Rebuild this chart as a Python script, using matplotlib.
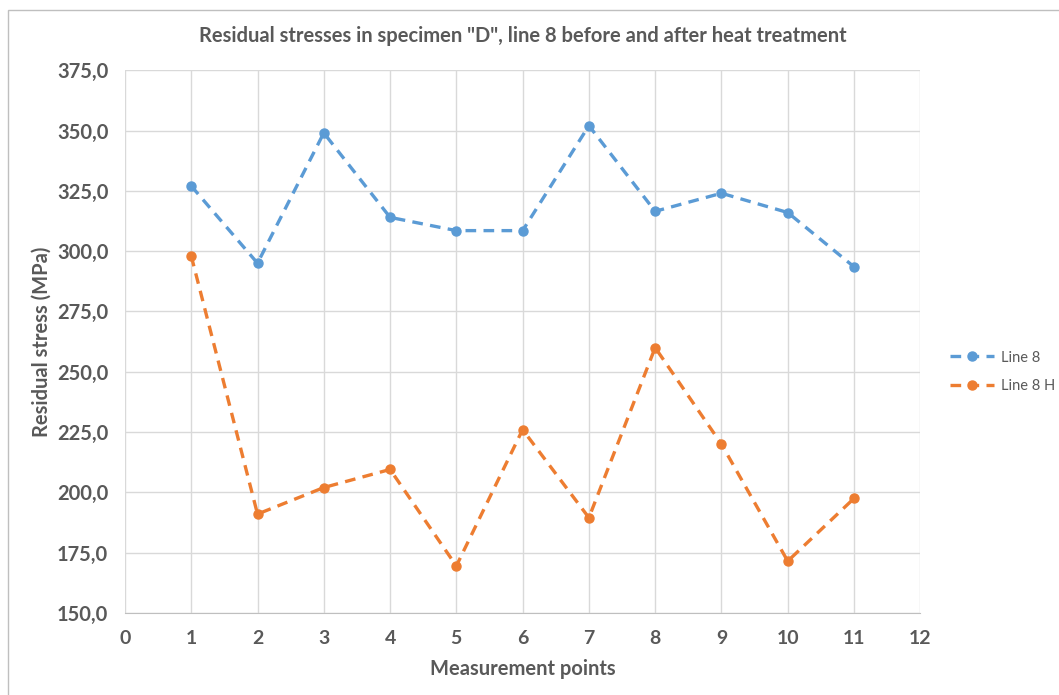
import matplotlib

matplotlib.use("Agg")
import matplotlib.pyplot as plt
from matplotlib.patches import Rectangle
from matplotlib.ticker import FuncFormatter

plt.rcParams["font.family"] = ["Lato", "DejaVu Sans"]

points = [1, 2, 3, 4, 5, 6, 7, 8, 9, 10, 11]
line_8 = [327.0, 295.0, 349.0, 314.0, 308.5, 308.5, 352.0, 316.5, 324.0, 316.0, 293.5]
line_8_h = [298.0, 191.0, 202.0, 209.5, 169.5, 226.0, 189.5, 260.0, 220.0, 171.5, 197.5]

BLUE = "#5B9BD5"
ORANGE = "#ED7D31"
TEXT = "#595959"
GRID = "#d9d9d9"

fig = plt.figure(figsize=(10.59, 6.95), dpi=100)
ax = fig.add_axes([0.118, 0.118, 0.751, 0.781])

# chart frame, clipped at the right and bottom edges
fig.patches.append(
    Rectangle((8 / 1059, -0.05), 1.2, 1 - 10 / 695 + 0.05, transform=fig.transFigure,
              fill=False, edgecolor="#bfbfbf", linewidth=1.0)
)

ax.plot(points, line_8, color=BLUE, linestyle=(0, (3.2, 2.2)), linewidth=2.4,
        marker="o", markersize=6.5, label="Line 8", zorder=3)
ax.plot(points, line_8_h, color=ORANGE, linestyle=(0, (3.2, 2.2)), linewidth=2.4,
        marker="o", markersize=6.5, label="Line 8 H", zorder=3)

ax.set_xlim(0, 12)
ax.set_ylim(150, 375)
ax.set_xticks(range(0, 13))
ax.set_yticks([150 + 25 * i for i in range(10)])
ax.yaxis.set_major_formatter(FuncFormatter(lambda v, _: f"{v:.1f}".replace(".", ",")))

ax.grid(True, color=GRID, linewidth=1.0, zorder=0)
ax.set_axisbelow(True)
for side in ("top", "right", "left"):
    ax.spines[side].set_visible(False)
ax.spines["bottom"].set_color("#bfbfbf")
ax.tick_params(axis="x", length=0, pad=12, labelsize=14, labelcolor=TEXT)
ax.tick_params(axis="y", length=0, pad=12, labelsize=14.5, labelcolor=TEXT)
for label in ax.get_xticklabels() + ax.get_yticklabels():
    label.set_fontweight("bold")

ax.set_title('Residual stresses in specimen "D", line 8 before and after heat treatment',
             fontsize=14.5, fontweight="bold", color=TEXT, pad=20)
ax.set_xlabel("Measurement points", fontsize=14.5, fontweight="bold", color=TEXT, labelpad=9)
ax.set_ylabel("Residual stress (MPa)", fontsize=14.5, fontweight="bold", color=TEXT, labelpad=4)

legend = fig.legend(loc="center left", bbox_to_anchor=(0.885, 0.465), frameon=False,
                    fontsize=10.5, handlelength=3.0, labelspacing=1.0, handletextpad=0.5)
for text in legend.get_texts():
    text.set_color(TEXT)

fig.savefig("out.png", dpi=100)
